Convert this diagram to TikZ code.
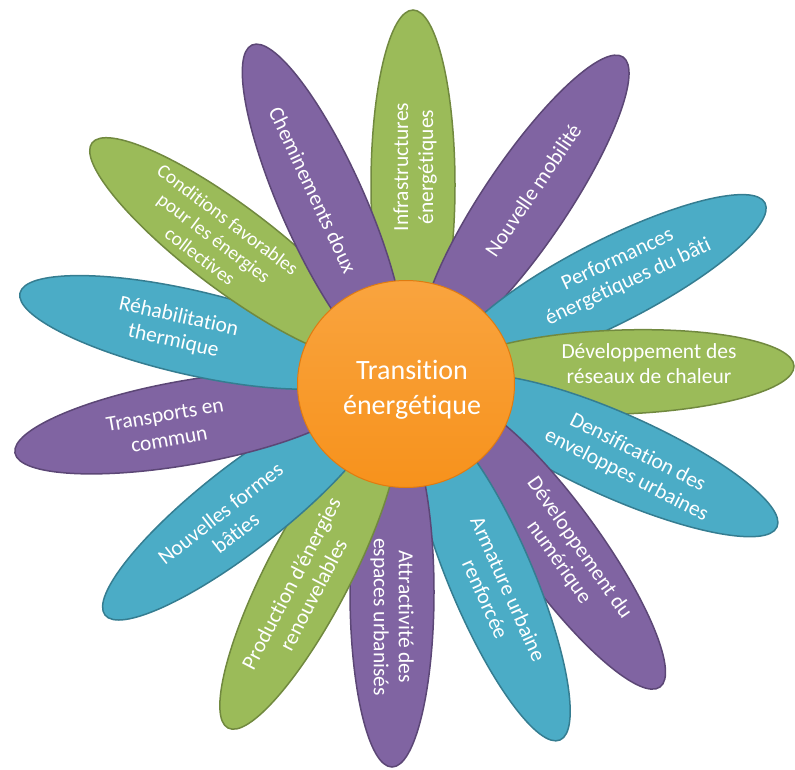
\documentclass[tikz,border=0pt]{standalone}
\usepackage{fontspec}
\setmainfont[Ligatures=NoCommon]{Carlito}
\usetikzlibrary{calc,shapes.geometric}
\definecolor{pgreen}{HTML}{9BBB59}
\definecolor{pgreenD}{HTML}{71893F}
\definecolor{ppurple}{HTML}{8064A2}
\definecolor{ppurpleD}{HTML}{5C4776}
\definecolor{pblue}{HTML}{4BACC6}
\definecolor{pblueD}{HTML}{357D91}
\definecolor{porange}{HTML}{F7921C}
\definecolor{porangeL}{HTML}{F9A43F}
\definecolor{porangeD}{HTML}{E07B10}
\tikzset{
  petalG/.style={fill=pgreen, draw=pgreenD},
  petalP/.style={fill=ppurple, draw=ppurpleD},
  petalB/.style={fill=pblue, draw=pblueD},
  ptext/.style={text=white, font=\fontsize{21.5}{25}\selectfont, align=center, inner sep=0pt},
  ptextsmall/.style={text=white, font=\fontsize{19.5}{23}\selectfont, align=center, inner sep=0pt},
  ctextstyle/.style={text=white, font=\fontsize{28}{35}\selectfont, align=center, inner sep=0pt},
  corestyle/.style={ellipse, draw=porangeD, line width=1pt, top color=porangeL, bottom color=porange,
    minimum width=217pt, minimum height=207pt, inner sep=0pt},
}
\newcommand\mypetal[5]{%
  \path (#2,-#3) ++(#4+180:175) coordinate (#1);
  \draw[line width=1.5pt, #5, rotate around={#4:(#1)}] (#1) ellipse [x radius=175, y radius=42];
}
\begin{document}
\begin{tikzpicture}[x=1pt,y=1pt]
\useasboundingbox (0,0) rectangle (795,-769);
% petals (drawing order, clockwise from top)
\mypetal{pInfra}{413}{10}{90}{petalG}
\mypetal{pNM}{623}{57}{56}{petalP}
\mypetal{pPerf}{765}{203}{27}{petalB}
\mypetal{pRes}{794}{366}{2}{petalG}
\mypetal{pDens}{777}{527}{-24}{petalB}
\mypetal{pNum}{660}{687}{-54}{petalP}
\mypetal{pArm}{560}{740}{-67}{petalB}
\mypetal{pAttr}{392}{767}{-90}{petalP}
\mypetal{pProd}{228}{728}{242.5}{petalG}
\mypetal{pNF}{105}{615}{218}{petalB}
\mypetal{pTrans}{15}{453}{190}{petalP}
\mypetal{pRehab}{20}{293}{167}{petalB}
\mypetal{pCond}{92}{143}{143}{petalG}
\mypetal{pChem}{252}{45}{114}{petalP}
% centre
\node[corestyle] (core) at (406,-384) {};
\node[ctextstyle] (ctext) at (412,-390) {Transition\\énergétique};
% petal texts
\node[ptext, rotate=90] (tInfra) at (415,-167) {Infrastructures\\énergétiques};
\node[ptext, rotate=56] (tNM) at (533,-190) {Nouvelle mobilité};
\node[ptext, rotate=25] (tPerf) at (623,-271) {Performances\\énergétiques du bâti};
\node[ptext] (tRes) at (649,-364) {Développement des\\réseaux de chaleur};
\node[ptext, rotate=-27] (tDens) at (632,-464) {Densification des\\enveloppes urbaines};
\node[ptext, rotate=-55] (tNum) at (569,-555) {Développement du\\numérique};
\node[ptext, rotate=-66] (tArm) at (497,-594) {Armature urbaine\\renforcée};
\node[ptext, rotate=-90] (tAttr) at (392,-617) {Attractivité des\\espaces urbanisés};
\node[ptext, rotate=62.5] (tProd) at (302,-589) {Production d'énergies\\renouvelables};
\node[ptext, rotate=38] (tNF) at (228,-523) {Nouvelles formes\\bâties};
\node[ptext, rotate=10] (tTrans) at (167,-427) {Transports en\\commun};
\node[ptext, rotate=-12.5] (tRehab) at (176,-329) {Réhabilitation\\thermique};
\node[ptextsmall, rotate=-37] (tCond) at (214,-238) {Conditions favorables\\pour les énergies\\collectives};
\node[ptext, rotate=-65] (tChem) at (313,-190) {Cheminements doux};
\end{tikzpicture}
\end{document}
